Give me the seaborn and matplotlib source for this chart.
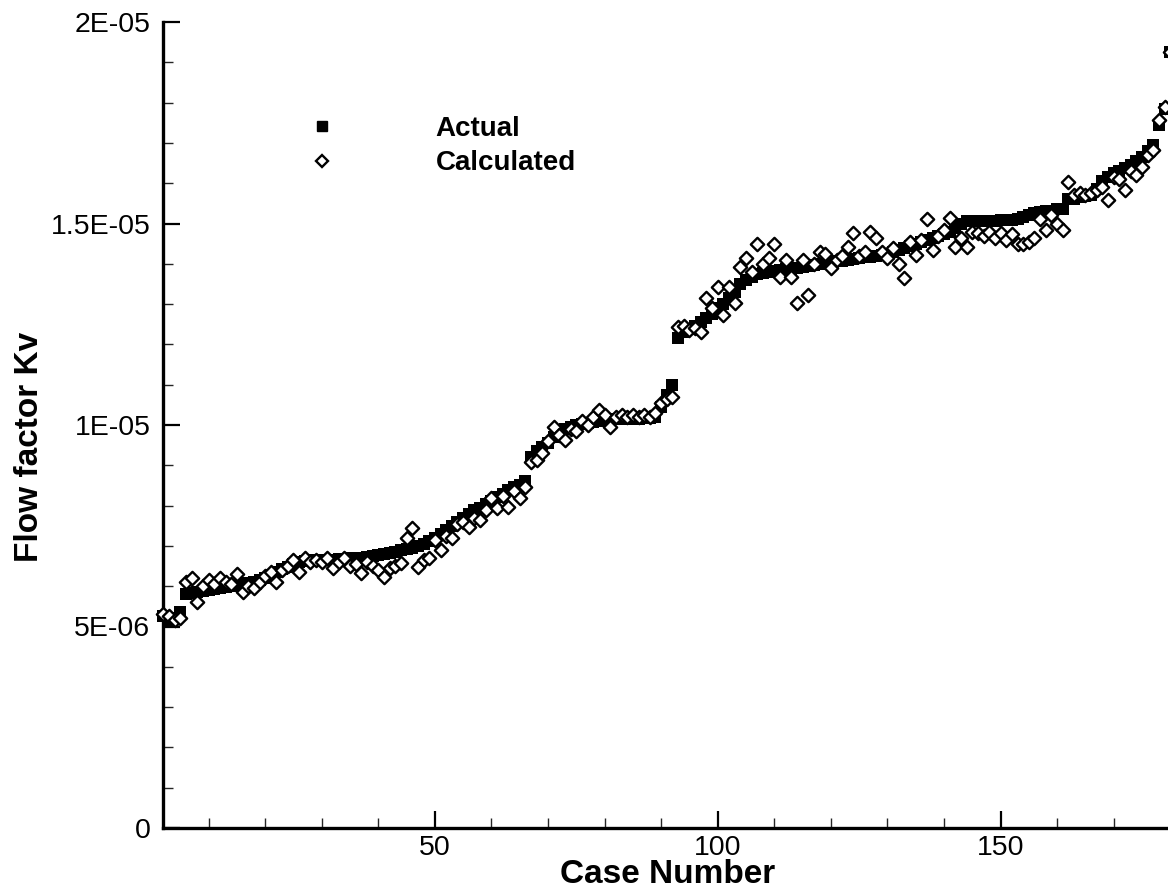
import numpy as np
import pandas as pd
import matplotlib
matplotlib.use("Agg")
import matplotlib.pyplot as plt
from matplotlib.ticker import MultipleLocator, FixedLocator
from matplotlib.lines import Line2D
import seaborn as sns

# ---------------- data (Flow factor Kv, in units of 1E-06) ----------------
case_number = list(range(2, 181))

actual = [
    5.25, 5.15, 5.20, 5.35, 5.80, 5.82, 5.85, 5.88, 5.90, 5.92,   # 2-11
    5.95, 5.97, 6.00, 6.02, 6.05, 6.08, 6.10, 6.15, 6.20, 6.28,   # 12-21
    6.35, 6.42, 6.48, 6.55, 6.60, 6.62, 6.64, 6.65, 6.65, 6.66,   # 22-31
    6.66, 6.67, 6.68, 6.69, 6.70, 6.71, 6.72, 6.74, 6.77, 6.80,   # 32-41
    6.83, 6.86, 6.90, 6.93, 6.96, 7.00, 7.05, 7.12, 7.20, 7.30,   # 42-51
    7.40, 7.50, 7.60, 7.70, 7.80, 7.88, 7.95, 8.03, 8.12, 8.22,   # 52-61
    8.30, 8.38, 8.45, 8.52, 8.62, 9.20, 9.35, 9.45, 9.55, 9.70,   # 62-71
    9.82, 9.90, 9.96, 10.00, 10.03, 10.06, 10.08, 10.10, 10.12, 10.13,  # 72-81
    10.14, 10.15, 10.15, 10.16, 10.16, 10.17, 10.18, 10.20, 10.45, 10.75,  # 82-91
    11.00, 12.15, 12.30, 12.38, 12.45, 12.55, 12.65, 12.75, 12.90, 13.00,  # 92-101
    13.15, 13.30, 13.50, 13.60, 13.68, 13.75, 13.78, 13.80, 13.82, 13.84,  # 102-111
    13.86, 13.88, 13.90, 13.92, 13.95, 13.97, 14.00, 14.02, 14.04, 14.06,  # 112-121
    14.08, 14.10, 14.12, 14.14, 14.16, 14.18, 14.20, 14.22, 14.25, 14.30,  # 122-131
    14.34, 14.40, 14.45, 14.50, 14.55, 14.60, 14.65, 14.70, 14.75, 14.80,  # 132-141
    14.90, 15.00, 15.05, 15.05, 15.06, 15.06, 15.07, 15.07, 15.08, 15.08,  # 142-151
    15.09, 15.10, 15.15, 15.20, 15.25, 15.28, 15.30, 15.32, 15.35, 15.35,  # 152-161
    15.60, 15.62, 15.65, 15.67, 15.70, 15.85, 16.05, 16.15, 16.25, 16.30,  # 162-171
    16.38, 16.45, 16.55, 16.65, 16.80, 16.95, 17.45, 17.85, 19.25,        # 172-180
]

calculated = [
    5.30, 5.25, 5.15, 5.20, 6.10, 6.20, 5.60, 6.00, 6.15, 6.05,   # 2-11
    6.20, 6.10, 6.05, 6.30, 5.85, 6.00, 5.95, 6.10, 6.25, 6.35,   # 12-21
    6.10, 6.40, 6.50, 6.65, 6.35, 6.70, 6.60, 6.65, 6.60, 6.70,   # 22-31
    6.45, 6.60, 6.70, 6.50, 6.55, 6.33, 6.60, 6.50, 6.40, 6.23,   # 32-41
    6.45, 6.50, 6.58, 7.20, 7.45, 6.48, 6.65, 6.70, 7.15, 6.90,   # 42-51
    7.25, 7.20, 7.55, 7.60, 7.47, 7.70, 7.64, 7.90, 8.20, 7.95,   # 52-61
    8.25, 7.97, 8.35, 8.20, 8.46, 9.08, 9.13, 9.30, 9.60, 9.95,   # 62-71
    9.75, 9.63, 9.90, 9.85, 10.10, 10.00, 10.20, 10.37, 10.25, 9.95,  # 72-81
    10.20, 10.25, 10.20, 10.25, 10.20, 10.25, 10.20, 10.30, 10.55, 10.65,  # 82-91
    10.70, 12.43, 12.45, 12.35, 12.40, 12.30, 13.15, 12.90, 13.42, 12.73,  # 92-101
    13.42, 13.03, 13.92, 14.14, 13.80, 14.50, 14.00, 14.14, 14.50, 13.67,  # 102-111
    14.10, 13.67, 13.03, 14.10, 13.23, 14.00, 14.30, 14.25, 13.90, 14.10,  # 112-121
    14.20, 14.42, 14.76, 14.20, 14.30, 14.79, 14.64, 14.30, 14.14, 14.40,  # 122-131
    14.00, 13.65, 14.54, 14.22, 14.60, 15.12, 14.34, 14.70, 14.84, 15.14,  # 132-141
    14.42, 14.64, 14.42, 14.80, 14.76, 14.70, 14.80, 14.65, 14.76, 14.60,  # 142-151
    14.75, 14.50, 14.50, 14.55, 14.64, 15.10, 14.84, 15.20, 15.00, 14.84,  # 152-161
    16.03, 15.70, 15.76, 15.70, 15.75, 15.83, 15.90, 15.58, 16.15, 16.10,  # 162-171
    15.83, 16.30, 16.20, 16.40, 16.70, 16.82, 17.57, 17.90, 19.25,        # 172-180
]

series_labels = ["Actual", "Calculated"]
y_tick_values = [0.0, 5e-06, 1e-05, 1.5e-05, 2e-05]
y_tick_labels = ["0", "5E-06", "1E-05", "1.5E-05", "2E-05"]
x_tick_values = [50, 100, 150]
x_label = "Case Number"
y_label = "Flow factor Kv"

scale = 1e-06
df_act = pd.DataFrame({"case": case_number, "kv": np.array(actual) * scale})
df_calc = pd.DataFrame({"case": case_number, "kv": np.array(calculated) * scale})

# ---------------- style ----------------
sns.set_style("ticks")
from matplotlib import font_manager
available = {f.name for f in font_manager.fontManager.ttflist}
base_font = "Liberation Sans" if "Liberation Sans" in available else "DejaVu Sans"
plt.rcParams["font.family"] = [base_font, "DejaVu Sans"]

fig = plt.figure(figsize=(11.68, 8.94), dpi=100)
ax = fig.add_axes([163 / 1168, 66 / 894, 1005 / 1168, 806 / 894])

sns.scatterplot(data=df_act, x="case", y="kv", ax=ax, marker="s", s=78,
                color="black", edgecolor="black", linewidth=0, zorder=3,
                clip_on=False, legend=False)
sns.scatterplot(data=df_calc, x="case", y="kv", ax=ax, marker="D", s=46,
                facecolor="white", edgecolor="black", linewidth=1.7, zorder=4,
                clip_on=False, legend=False)

ax.set_xlim(1.94, 179.6)
ax.set_ylim(0, 2e-05)

ax.xaxis.set_major_locator(FixedLocator(x_tick_values))
ax.xaxis.set_minor_locator(MultipleLocator(10))
ax.yaxis.set_major_locator(FixedLocator(y_tick_values))
ax.set_yticklabels(y_tick_labels)
ax.yaxis.set_minor_locator(MultipleLocator(1e-06))

ax.tick_params(axis="both", which="major", direction="in", length=12, width=1.6,
               labelsize=20.5, colors="black")
ax.tick_params(axis="both", which="minor", direction="in", length=7, width=1.0)
ax.tick_params(axis="y", which="major", pad=9)
ax.tick_params(axis="x", which="major", pad=5)

sns.despine(ax=ax, top=True, right=True)
for sp in ["left", "bottom"]:
    ax.spines[sp].set_linewidth(2.4)
    ax.spines[sp].set_color("black")

ax.set_xlabel(x_label, fontsize=24, fontweight="bold", color="black")
ax.set_ylabel(y_label, fontsize=24, fontweight="bold", color="black")
ax.xaxis.set_label_coords(0.502, -0.038)
ax.yaxis.set_label_coords(-0.117, 0.473)

handles = [
    Line2D([], [], linestyle="none", marker="s", markersize=7.5,
           markerfacecolor="black", markeredgecolor="black"),
    Line2D([], [], linestyle="none", marker="D", markersize=6.5,
           markerfacecolor="white", markeredgecolor="black", markeredgewidth=1.7),
]
leg = fig.legend(handles, series_labels, loc="upper left",
                 bbox_to_anchor=(308 / 1168, (894 - 116) / 894),
                 frameon=False, handlelength=1.0, handletextpad=3.6,
                 labelspacing=0.3, borderpad=0, borderaxespad=0,
                 prop={"size": 20, "weight": "bold", "family": [base_font, "DejaVu Sans"]})
for t in leg.get_texts():
    t.set_color("black")

fig.savefig("out.png", dpi=100)
